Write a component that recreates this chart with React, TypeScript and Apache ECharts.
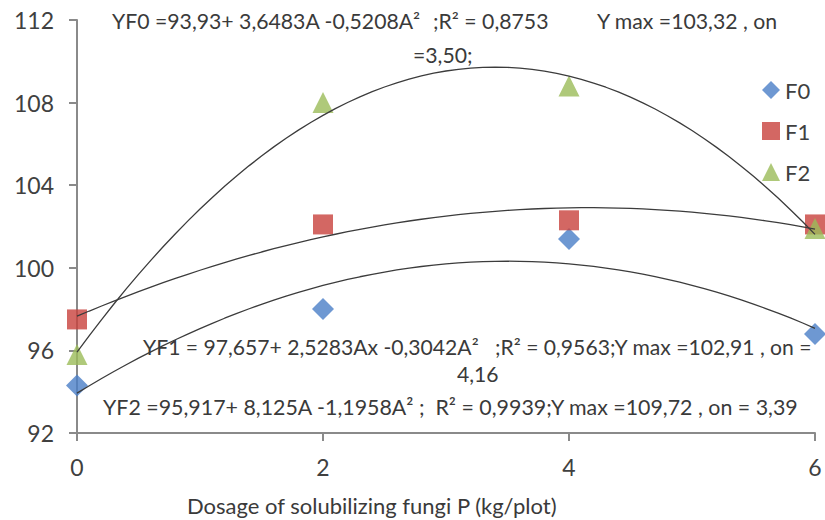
import React, { useEffect, useRef } from "react";
import * as echarts from "echarts";

const xDoses = [0, 2, 4, 6];
const seriesNames = ["F0", "F1", "F2"];
const valuesF0 = [94.3, 98.0, 101.4, 96.8];
const valuesF1 = [97.5, 102.1, 102.3, 102.1];
const valuesF2 = [95.8, 108.0, 108.8, 101.9];
// quadratic trendline coefficients printed on the chart: a + b*A + c*A^2
const fitF0 = [93.93, 3.6483, -0.5208];
const fitF1 = [97.657, 2.5283, -0.3042];
const fitF2 = [95.917, 8.125, -1.1958];
const yTicks = { min: 92, max: 112, interval: 4 };
const xTicks = { min: 0, max: 6, interval: 2 };

const eqF0a = "YF0 =93,93+ 3,6483A -0,5208A²";
const eqF0b = ";R² = 0,8753";
const eqF0c = "Y max =103,32 , on";
const eqF0d = "=3,50;";
const eqF1a = "YF1 = 97,657+ 2,5283Ax -0,3042A²   ;R² = 0,9563;Y max =102,91 , on =";
const eqF1b = "4,16";
const eqF2a = "YF2 =95,917+ 8,125A -1,1958A² ;  R² = 0,9939;Y max =109,72 , on = 3,39";
const xTitle = "Dosage of solubilizing fungi P (kg/plot)";

const colors = ["#4A7EC7", "#C8413C", "#9BBB59"];
const symbols = ["diamond", "rect", "triangle"];
const FONT = "Lato, 'Open Sans', sans-serif";

function trend(coef: number[]) {
  const pts: number[][] = [];
  for (let i = 0; i <= 60; i++) {
    const a = i / 10;
    pts.push([a, coef[0] + coef[1] * a + coef[2] * a * a]);
  }
  return pts;
}

let ctx: CanvasRenderingContext2D | null = null;
function measure(text: string, size: number) {
  if (!ctx) ctx = document.createElement("canvas").getContext("2d");
  if (!ctx) return text.length * size * 0.5;
  ctx.font = `${size}px ${FONT}`;
  return ctx.measureText(text).width;
}

// font size so that text spans roughly the target width
function fitSize(text: string, target: number) {
  const w = measure(text, 20);
  const s = (20 * target) / w;
  return Math.max(18, Math.min(24, s));
}

function txt(text: string, x: number, y: number, size: number, align = "left") {
  return {
    type: "text",
    x,
    y,
    silent: true,
    z: 50,
    style: {
      text,
      fill: "#3a3a3a",
      font: `${size}px ${FONT}`,
      align,
      verticalAlign: "middle",
      textAlign: align,
      textVerticalAlign: "middle",
    },
  };
}

export default function App() {
  const ref = useRef<HTMLDivElement>(null);
  useEffect(() => {
    if (!ref.current) return;
    const chart = echarts.init(ref.current, undefined, { renderer: "svg" });
    const raw = [valuesF0, valuesF1, valuesF2];
    const fits = [fitF0, fitF1, fitF2];
    const scatter = raw.map((vals, i) => ({
      name: seriesNames[i],
      type: "scatter",
      symbol: symbols[i],
      symbolSize: i === 0 ? 22 : i === 1 ? 20 : 21,
      itemStyle: { color: colors[i] },
      data: xDoses.map((x, j) => [x, vals[j]]),
      z: 3,
    }));
    const lines = fits.map((c, i) => ({
      name: "trend" + i,
      type: "line",
      showSymbol: false,
      smooth: false,
      lineStyle: { color: "#3c3c3c", width: 1.3 },
      data: trend(c),
      z: 4,
      silent: true,
    }));

    const sTop = fitSize(eqF0a, 309);
    const s1 = fitSize(eqF1a, 670);
    const s2 = fitSize(eqF2a, 697);
    const sTitle = 22;

    chart.setOption({
      animation: false,
      backgroundColor: "#ffffff",
      grid: { left: 77, right: 10, top: 20, bottom: 87, containLabel: false },
      legend: {
        data: seriesNames,
        orient: "vertical",
        left: 757,
        top: 74,
        itemWidth: 18,
        itemHeight: 18,
        itemGap: 19,
        textStyle: { fontFamily: FONT, fontSize: 22, color: "#404040" },
      },
      xAxis: {
        type: "value",
        min: xTicks.min,
        max: xTicks.max,
        interval: xTicks.interval,
        axisLine: { lineStyle: { color: "#8a8a8a", width: 2 } },
        axisTick: { show: true, length: 8, lineStyle: { color: "#8a8a8a", width: 2 } },
        splitLine: { show: false },
        axisLabel: { fontFamily: FONT, fontSize: 23, color: "#404040", margin: 22 },
      },
      yAxis: {
        type: "value",
        min: yTicks.min,
        max: yTicks.max,
        interval: yTicks.interval,
        axisLine: { show: true, lineStyle: { color: "#8a8a8a", width: 2 } },
        axisTick: { show: true, length: 8, lineStyle: { color: "#8a8a8a", width: 2 } },
        splitLine: { show: false },
        axisLabel: { fontFamily: FONT, fontSize: 23, color: "#404040", margin: 23 },
      },
      graphic: [
        txt(eqF0a, 112, 21, sTop),
        txt(eqF0b, 433, 21, sTop),
        txt(eqF0c, 597, 21, sTop),
        txt(eqF0d, 413, 55, sTop),
        txt(eqF1a, 143, 347, s1),
        txt(eqF1b, 457, 374, s1),
        txt(eqF2a, 103, 407, s2),
        txt(xTitle, 187, 505, sTitle),
      ],
      series: [...scatter, ...lines],
    });
    return () => chart.dispose();
  }, []);
  return (
    <div
      ref={ref}
      style={{ position: "fixed", left: 0, top: 0, width: 825, height: 520 }}
    />
  );
}
